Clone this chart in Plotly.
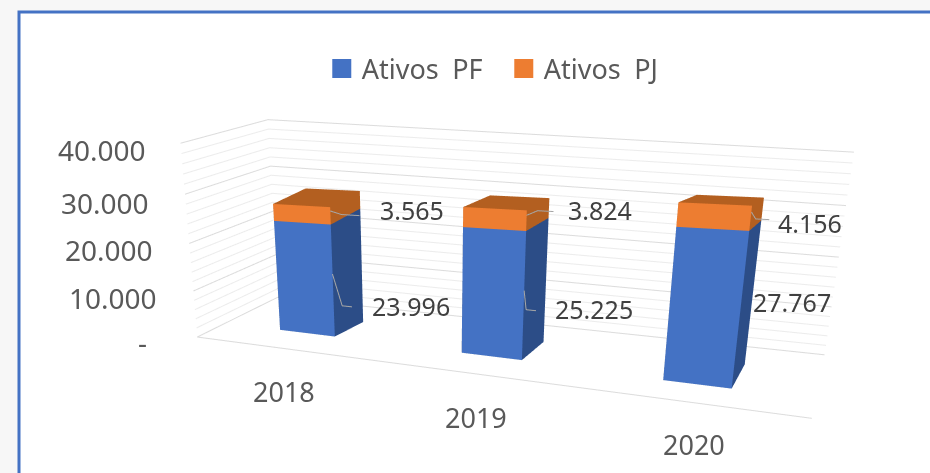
import plotly.graph_objects as go

categories = ["2018", "2019", "2020"]
ativos_pf = [23996, 25225, 27767]
ativos_pj = [3565, 3824, 4156]
pf_labels = ["23.996", "25.225", "27.767"]
pj_labels = ["3.565", "3.824", "4.156"]
z_ticks = [0, 10000, 20000, 30000, 40000]
z_tick_labels = ["-", "10.000", "20.000", "30.000", "40.000"]
minor_step = 2000
z_max = 40000

# bar footprints on the floor, as fractions of the plot box
bar_x0 = [0.1121, 0.4426, 0.7456]
bar_x1 = [0.218, 0.5393, 0.8359]
bar_xb = [0.2322, 0.5607, 0.869]   # right edge of the bar's back face
bar_y0 = [0.3037, 0.2938, 0.2548]
bar_y1 = [0.645, 0.6557, 0.6606]
bar_lift = [2228, 1064, 56]        # extra rise of the lid towards the back
floor_front_end = 0.9192
corner_rise = 1.117                # the far left wall corner sits higher, as in the picture

BLUE, BLUE_D = "#4472c4", "#2c4d87"
ORANGE, ORANGE_D = "#ed7d31", "#b35f20"
FONT = "Noto Sans"
totals = [a + b for a, b in zip(ativos_pf, ativos_pj)]


def cuboids(base, top, front, side, lid):
    xs, ys, zs, i, j, k, colors = [], [], [], [], [], [], []
    for n in range(len(base)):
        o = len(xs)
        x0, x1, y0, y1 = bar_x0[n], bar_x1[n], bar_y0[n], bar_y1[n]
        xb = bar_xb[n]
        xa = x0 + xb - x1
        zb0 = base[n] * (1 + bar_lift[n] / totals[n])
        zb1 = top[n] * (1 + bar_lift[n] / totals[n])
        xs += [x0, x1, xb, xa, x0, x1, xb, xa]
        ys += [y0, y0, y1, y1, y0, y0, y1, y1]
        zs += [base[n], base[n], zb0, zb0, top[n], top[n], zb1, zb1]
        quads = [((0, 1, 5), (0, 5, 4), front), ((1, 2, 6), (1, 6, 5), side),
                 ((4, 5, 6), (4, 6, 7), lid), ((2, 3, 7), (2, 7, 6), side),
                 ((3, 0, 4), (3, 4, 7), side), ((0, 1, 2), (0, 2, 3), side)]
        for a, b, c in quads:
            for t in (a, b):
                i.append(o + t[0]); j.append(o + t[1]); k.append(o + t[2])
                colors.append(c)
    return go.Mesh3d(x=xs, y=ys, z=zs, i=i, j=j, k=k, facecolor=colors, flatshading=True,
                     lighting=dict(ambient=1, diffuse=0, specular=0, fresnel=0, roughness=1),
                     hoverinfo="skip", showlegend=False, showscale=False)


fig = go.Figure()


def grid(values, color, width):
    xs, ys, zs = [], [], []
    for v in values:
        xs += [0, 0, 1, None]; ys += [0, 1, 1, None]; zs += [v, v * corner_rise, v, None]
    fig.add_trace(go.Scatter3d(x=xs, y=ys, z=zs, mode="lines", line=dict(color=color, width=width),
                               hoverinfo="skip", showlegend=False))


grid([v for v in range(0, z_max + 1, minor_step) if v not in z_ticks], "#ececec", 2)
grid([v for v in z_ticks if v != 0], "#dcdcdc", 2)
# floor
fig.add_trace(go.Scatter3d(x=[floor_front_end, 0, 0, 1], y=[0, 0, 1, 1], z=[0] * 4, mode="lines",
                           line=dict(color="#dcdcdc", width=2), hoverinfo="skip", showlegend=False))
fig.add_trace(cuboids([0, 0, 0], ativos_pf, BLUE, BLUE_D, BLUE_D))
fig.add_trace(cuboids(ativos_pf, totals, ORANGE, ORANGE_D, ORANGE_D))

# leader lines: (bar, dx1, dx2, z start, z elbow) measured from each bar's front right edge
leaders = [(0, 0.016, 0.034, 13650, 7000), (1, 0.004, 0.019, 13900, 10200),
           (0, 0.02, 0.052, 26800, 26200), (1, 0.016, 0.039, 28150, 29100), (2, 0.006, 0.022, 30900, 29800)]
for b, dx1, dx2, z0, z1 in leaders:
    xr, yf = bar_x1[b], bar_y0[b] - 0.002
    fig.add_trace(go.Scatter3d(x=[xr, xr + dx1, xr + dx2], y=[yf] * 3, z=[z0, z1, z1], mode="lines",
                               line=dict(color="#a6a6a6", width=2), hoverinfo="skip", showlegend=False))

# legend entries
for name, c in [("Ativos\u2002PF", BLUE), ("Ativos\u2002PJ", ORANGE)]:
    fig.add_trace(go.Scatter3d(x=[None], y=[None], z=[None], mode="markers", name=name,
                               marker=dict(color=c, size=19, symbol="square", line=dict(color=c, width=3)),
                               hoverinfo="skip"))

ann = []
tick_dx = [-48, -34, -34, -34, -33]
tick_dy = [-5, -7, -7, -9, -7]
for v, t, dx, dy in zip(z_ticks, z_tick_labels, tick_dx, tick_dy):
    ann.append(dict(x=0, y=0, z=v, text=t, showarrow=False, xanchor="right", yanchor="middle", xshift=dx, yshift=dy,
                    font=dict(family=FONT, size=28, color="#595959")))
cat_x = [0.166, 0.484, 0.781]
cat_dy = [-43, -44, -42]
for c, x, dy in zip(categories, cat_x, cat_dy):
    ann.append(dict(x=x, y=0, z=0, text=c, showarrow=False, xanchor="center", yanchor="middle",
                    yshift=dy, font=dict(family=FONT, size=27, color="#595959")))
pf_dx, pf_dy = [37, 29, 11], [-24, -12, 10]
pj_dx, pj_dy = [48, 40, 25], [6, 11, -5]
for n in range(3):
    ann.append(dict(x=bar_x1[n], y=bar_y0[n], z=ativos_pf[n] / 2, text=pf_labels[n], showarrow=False,
                    xanchor="left", yanchor="middle", xshift=pf_dx[n], yshift=pf_dy[n],
                    font=dict(family=FONT, size=25, color="#404040")))
    ann.append(dict(x=bar_x1[n], y=bar_y0[n], z=ativos_pf[n] + ativos_pj[n] / 2, text=pj_labels[n], showarrow=False,
                    xanchor="left", yanchor="middle", xshift=pj_dx[n], yshift=pj_dy[n],
                    font=dict(family=FONT, size=25, color="#404040")))

hidden = dict(visible=False, showgrid=False, zeroline=False, showspikes=False, showticklabels=False, title="")
fig.update_layout(
    width=930, height=473, margin=dict(l=0, r=0, t=0, b=0),
    paper_bgcolor="#f7f7f7", plot_bgcolor="white",
    font=dict(family=FONT, color="#595959"),
    shapes=[dict(type="rect", xref="paper", yref="paper", x0=19 / 930, x1=1.02, y0=-0.02, y1=1 - 12 / 473,
                 fillcolor="white", line=dict(color="#4472c4", width=3), layer="below")],
    legend=dict(orientation="h", x=0.346, y=0.906, xanchor="left", yanchor="top", entrywidth=137,
                entrywidthmode="pixels",
                font=dict(family=FONT, size=27, color="#595959"), bgcolor="rgba(0,0,0,0)"),
    scene=dict(
        domain=dict(x=[0, 1], y=[0, 1]),
        xaxis=dict(range=[0, 1], **hidden), yaxis=dict(range=[0, 1], **hidden),
        zaxis=dict(range=[0, 50000], **hidden),
        aspectmode="manual", aspectratio=dict(x=3.1104, y=0.7248, z=1.25),
        bgcolor="rgba(0,0,0,0)", dragmode=False,
        camera=dict(eye=dict(x=0.547, y=-2.6986, z=0.4948), center=dict(x=-0.1943, y=-0.0566, z=-0.0584),
                    up=dict(x=-0.0111, y=-0.0012, z=1), projection=dict(type="perspective")),
        annotations=ann,
    ),
)
fig.write_html("out.html", config=dict(displayModeBar=False),
               post_script="document.body.style.margin='0';document.body.style.overflow='hidden';")
